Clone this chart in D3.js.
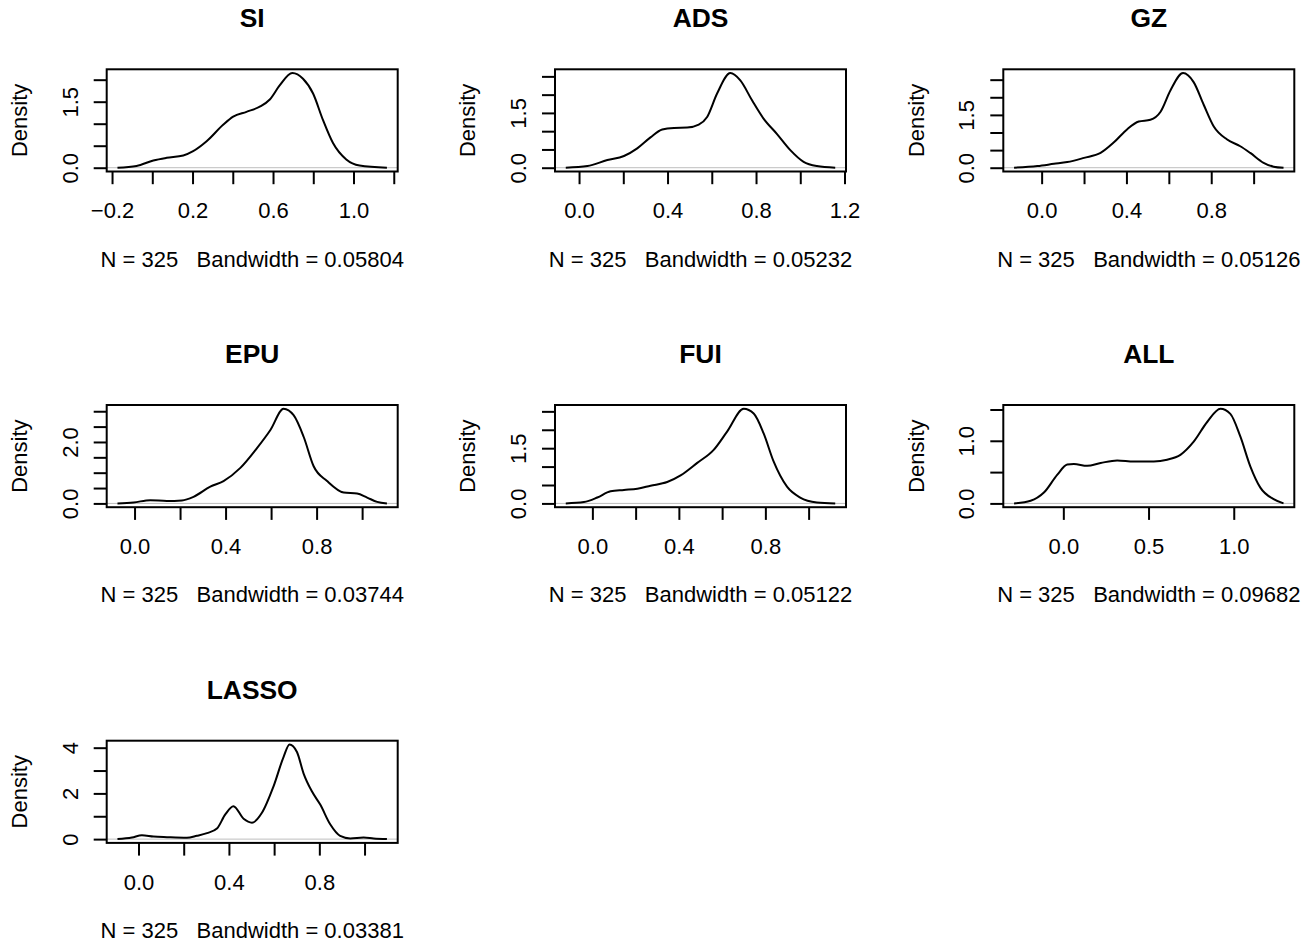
<!DOCTYPE html>
<html>
<head>
<meta charset="utf-8">
<script src="https://cdn.jsdelivr.net/npm/d3@7"></script>
<style>
  html, body { margin: 0; padding: 0; background: #ffffff; }
  svg { display: block; }
  text { font-family: "Liberation Sans", Arial, Helvetica, sans-serif; fill: #000; }
</style>
</head>
<body>
<div id="chart"></div>
<script>
// Kernel density estimates (x, density) for each index
const titles = ["SI", "ADS", "GZ", "EPU", "FUI", "ALL", "LASSO"];
const bandwidths = ["0.05804", "0.05232", "0.05126", "0.03744", "0.05122", "0.09682", "0.03381"];
const sampleSize = 325;

const siDensity = [[-0.173,0],[-0.078,0.04],[0.005,0.165],[0.071,0.225],[0.154,0.277],[0.203,0.375],[0.27,0.6],[0.352,0.974],[0.402,1.16],[0.468,1.27],[0.534,1.386],[0.584,1.55],[0.633,1.87],[0.696,2.15],[0.749,2.02],[0.799,1.685],[0.848,1.086],[0.898,0.56],[0.964,0.187],[1.03,0.05],[1.166,0]];
const adsDensity = [[-0.06,0],[0.038,0.045],[0.128,0.21],[0.203,0.32],[0.263,0.53],[0.323,0.83],[0.376,1.045],[0.429,1.09],[0.489,1.1],[0.541,1.18],[0.579,1.39],[0.624,2.03],[0.684,2.59],[0.729,2.39],[0.782,1.845],[0.834,1.345],[0.895,0.92],[0.955,0.48],[1.015,0.16],[1.075,0.045],[1.158,0]];
const gzDensity = [[-0.13,0],[-0.02,0.047],[0.058,0.11],[0.121,0.16],[0.2,0.28],[0.278,0.42],[0.341,0.72],[0.404,1.095],[0.458,1.31],[0.513,1.36],[0.561,1.59],[0.608,2.2],[0.667,2.687],[0.717,2.43],[0.765,1.78],[0.812,1.17],[0.875,0.8],[0.937,0.61],[0.984,0.42],[1.047,0.14],[1.094,0.03],[1.141,0]];
const epuDensity = [[-0.075,0],[-0.004,0.03],[0.069,0.107],[0.142,0.075],[0.208,0.096],[0.259,0.214],[0.333,0.546],[0.391,0.728],[0.465,1.156],[0.538,1.8],[0.597,2.39],[0.655,3.08],[0.699,2.87],[0.743,2.17],[0.787,1.21],[0.846,0.728],[0.919,0.353],[0.978,0.32],[1.022,0.19],[1.066,0.05],[1.109,0]];
const fuiDensity = [[-0.123,0],[-0.039,0.036],[0.023,0.16],[0.084,0.33],[0.146,0.366],[0.208,0.40],[0.269,0.48],[0.346,0.58],[0.408,0.76],[0.485,1.1],[0.561,1.455],[0.623,1.95],[0.7,2.57],[0.746,2.44],[0.792,1.9],[0.838,1.14],[0.9,0.455],[0.961,0.16],[1.038,0.027],[1.123,0]];
const allDensity = [[-0.289,0],[-0.192,0.042],[-0.114,0.173],[-0.035,0.46],[0.023,0.62],[0.062,0.63],[0.14,0.6],[0.219,0.645],[0.316,0.687],[0.414,0.67],[0.531,0.67],[0.609,0.698],[0.687,0.776],[0.765,0.986],[0.844,1.3],[0.922,1.511],[0.98,1.43],[1.039,1.065],[1.097,0.593],[1.156,0.252],[1.234,0.068],[1.292,0]];
const lassoDensity = [[-0.093,0],[-0.029,0.07],[0.015,0.17],[0.066,0.115],[0.126,0.086],[0.214,0.058],[0.258,0.144],[0.303,0.26],[0.347,0.46],[0.384,1.08],[0.42,1.44],[0.465,0.89],[0.502,0.72],[0.546,1.15],[0.597,2.3],[0.642,3.6],[0.668,4.14],[0.701,3.81],[0.73,2.88],[0.767,2.09],[0.804,1.51],[0.848,0.65],[0.892,0.144],[0.937,0.03],[0.996,0.07],[1.04,0.03],[1.099,0]];

// Axis ticks; an empty label means the tick is drawn without text
const siXTicks = [-0.2, 0, 0.2, 0.4, 0.6, 0.8, 1.0, 1.2];
const siXLabels = ["\u22120.2", "", "0.2", "", "0.6", "", "1.0", ""];
const adsXTicks = [0, 0.2, 0.4, 0.6, 0.8, 1.0, 1.2];
const adsXLabels = ["0.0", "", "0.4", "", "0.8", "", "1.2"];
const unitXTicks = [0, 0.2, 0.4, 0.6, 0.8, 1.0];
const unitXLabels = ["0.0", "", "0.4", "", "0.8", ""];
const allXTicks = [0, 0.5, 1.0];
const allXLabels = ["0.0", "0.5", "1.0"];

const y20Ticks = [0, 0.5, 1.0, 1.5, 2.0];
const y20Labels = ["0.0", "", "", "1.5", ""];
const y25Ticks = [0, 0.5, 1.0, 1.5, 2.0, 2.5];
const y25Labels = ["0.0", "", "", "1.5", "", ""];
const y30Ticks = [0, 0.5, 1.0, 1.5, 2.0, 2.5, 3.0];
const y30Labels = ["0.0", "", "", "", "2.0", "", ""];
const y15Ticks = [0, 0.5, 1.0, 1.5];
const y15Labels = ["0.0", "", "1.0", ""];
const y4Ticks = [0, 1, 2, 3, 4];
const y4Labels = ["0", "", "2", "", "4"];

const panels = [
  { curve: siDensity,    xTicks: siXTicks,   xLabels: siXLabels,   yTicks: y20Ticks, yLabels: y20Labels },
  { curve: adsDensity,   xTicks: adsXTicks,  xLabels: adsXLabels,  yTicks: y25Ticks, yLabels: y25Labels },
  { curve: gzDensity,    xTicks: unitXTicks, xLabels: unitXLabels, yTicks: y25Ticks, yLabels: y25Labels },
  { curve: epuDensity,   xTicks: unitXTicks, xLabels: unitXLabels, yTicks: y30Ticks, yLabels: y30Labels },
  { curve: fuiDensity,   xTicks: unitXTicks, xLabels: unitXLabels, yTicks: y25Ticks, yLabels: y25Labels },
  { curve: allDensity,   xTicks: allXTicks,  xLabels: allXLabels,  yTicks: y15Ticks, yLabels: y15Labels },
  { curve: lassoDensity, xTicks: unitXTicks, xLabels: unitXLabels, yTicks: y4Ticks,  yLabels: y4Labels }
];

const width = 1311, height = 944;
const grid = { left: 106.7, top: 69.3, colStep: 448.3, rowStep: 335.7, w: 291, h: 102.2 };
const axisFont = 22, titleFont = 26.4, lw = 2;

// Extend a range by 4% on each side, as base graphics do
function padRange([a, b]) {
  const d = (b - a) * 0.04;
  return [a - d, b + d];
}

const svg = d3.select("#chart").append("svg")
  .attr("width", width).attr("height", height);

panels.forEach((p, i) => {
  const col = i % 3, row = Math.floor(i / 3);
  const g = svg.append("g")
    .attr("transform", `translate(${grid.left + col * grid.colStep},${grid.top + row * grid.rowStep})`);
  const w = grid.w, h = grid.h;

  const x = d3.scaleLinear().domain(padRange(d3.extent(p.curve, d => d[0]))).range([0, w]);
  const y = d3.scaleLinear().domain(padRange([0, d3.max(p.curve, d => d[1])])).range([h, 0]);

  // zero reference line
  g.append("line")
    .attr("x1", 0).attr("x2", w)
    .attr("y1", y(0)).attr("y2", y(0))
    .attr("stroke", "#bebebe").attr("stroke-width", 1);

  // density curve
  g.append("path")
    .datum(p.curve)
    .attr("fill", "none")
    .attr("stroke", "#000")
    .attr("stroke-width", lw)
    .attr("stroke-linejoin", "round")
    .attr("d", d3.line().x(d => x(d[0])).y(d => y(d[1])).curve(d3.curveMonotoneX));

  // plot frame
  g.append("rect")
    .attr("x", 0).attr("y", 0).attr("width", w).attr("height", h)
    .attr("fill", "none").attr("stroke", "#000").attr("stroke-width", lw);

  // bottom axis
  const xAxis = g.append("g")
    .attr("transform", `translate(0,${h})`)
    .call(d3.axisBottom(x).tickValues(p.xTicks).tickSize(12.7)
      .tickFormat((d, k) => p.xLabels[k]));
  xAxis.select(".domain").remove();
  xAxis.selectAll("line").attr("stroke", "#000").attr("stroke-width", lw);
  xAxis.selectAll("text")
    .attr("y", 46.8).attr("dy", null)
    .attr("font-size", axisFont)
    .attr("font-family", "Liberation Sans, Arial, sans-serif")
    .attr("fill", "#000");

  // left axis with labels parallel to the axis
  const yAxis = g.append("g")
    .call(d3.axisLeft(y).tickValues(p.yTicks).tickSize(13)
      .tickFormat((d, k) => p.yLabels[k]));
  yAxis.select(".domain").remove();
  yAxis.selectAll("line").attr("stroke", "#000").attr("stroke-width", lw);
  yAxis.selectAll("text")
    .attr("x", null).attr("y", null).attr("dy", null)
    .attr("text-anchor", "middle")
    .attr("transform", "translate(-29,0) rotate(-90)")
    .attr("font-size", axisFont)
    .attr("font-family", "Liberation Sans, Arial, sans-serif")
    .attr("fill", "#000");

  // y axis title
  g.append("text")
    .attr("transform", `translate(${-79.7},${h / 2}) rotate(-90)`)
    .attr("text-anchor", "middle")
    .attr("font-size", axisFont)
    .text("Density");

  // panel title
  g.append("text")
    .attr("x", w / 2).attr("y", -42)
    .attr("text-anchor", "middle")
    .attr("font-size", titleFont)
    .attr("font-weight", "bold")
    .text(titles[i]);

  // sample size and bandwidth
  g.append("text")
    .attr("x", w / 2).attr("y", h + 95.2)
    .attr("text-anchor", "middle")
    .attr("font-size", axisFont)
    .attr("xml:space", "preserve")
    .style("white-space", "pre")
    .text(`N = ${sampleSize}   Bandwidth = ${bandwidths[i]}`);
});
</script>
</body>
</html>
